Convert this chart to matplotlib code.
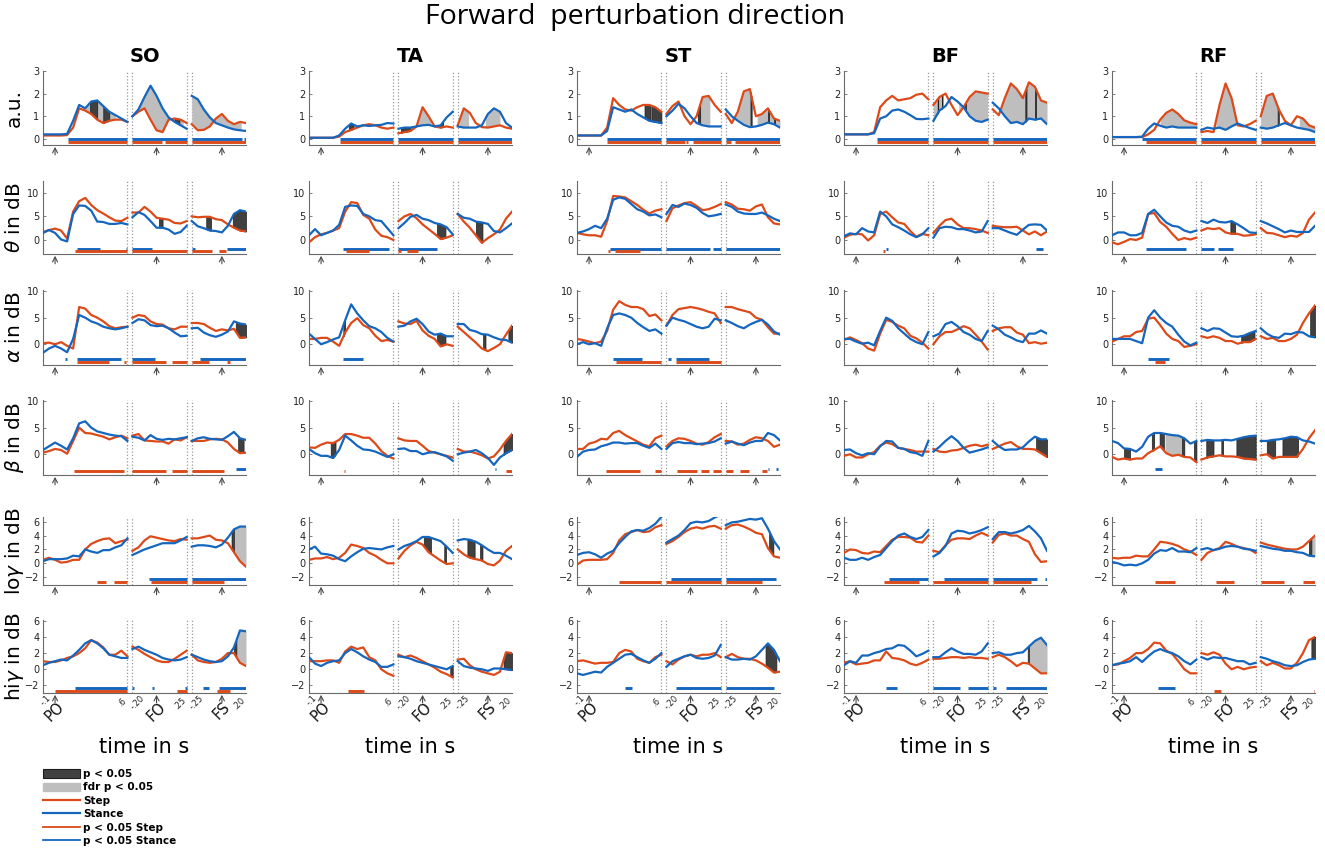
import numpy as np
import matplotlib
matplotlib.use('Agg')
import matplotlib.pyplot as plt
from matplotlib.patches import Patch
from matplotlib.lines import Line2D

plt.rcParams['font.family'] = ['DejaVu Sans']

# ---------------- data ----------------
muscles = ['SO', 'TA', 'ST', 'BF', 'RF']
band_labels = ['a.u.', r'$\theta$ in dB', r'$\alpha$ in dB', r'$\beta$ in dB',
               r'lo$\gamma$ in dB', r'hi$\gamma$ in dB']
events = ['PO', 'FO', 'FS']
seg_start_labels = ['-.1', '-.20', '-.25']
seg_end_labels = ['.6', '.25', '.20']

t_po = [-0.10, -0.05, 0.00, 0.05, 0.10, 0.15, 0.20, 0.25, 0.30, 0.35, 0.40, 0.45, 0.50, 0.55, 0.60]
t_fo = [-0.20, -0.15, -0.10, -0.05, 0.00, 0.05, 0.10, 0.15, 0.20, 0.25]
t_fs = [-0.25, -0.20, -0.15, -0.10, -0.05, 0.00, 0.05, 0.10, 0.15, 0.20]

SO_step = [
    [[0.15,0.15,0.15,0.15,0.17,0.5,1.35,1.25,1.1,0.85,0.7,0.8,0.85,0.85,0.75],[1.0,1.2,1.35,0.85,0.38,0.3,0.85,0.9,0.85,0.7],[0.65,0.38,0.4,0.55,0.9,1.1,0.8,0.65,0.75,0.7]],
    [[1.7,2.1,2.4,2.0,0.3,6.0,8.2,8.9,7.4,6.3,5.6,4.8,4.1,4.0,4.7],[5.8,5.8,7.0,6.0,4.7,4.5,4.3,3.6,3.5,4.0],[5.0,4.8,4.9,4.9,4.4,4.2,3.3,2.6,2.0,1.8]],
    [[0.2,0.3,0.0,0.4,-0.3,-0.8,7.0,6.7,5.5,5.0,4.3,3.4,3.0,3.2,3.3],[5.0,5.5,5.3,4.3,3.8,3.7,3.0,2.8,3.3,3.3],[4.0,4.0,3.8,3.1,2.5,2.8,2.6,2.9,1.2,1.3]],
    [[0.3,0.6,1.0,0.8,0.1,2.5,5.0,4.0,3.9,3.6,3.3,2.8,3.2,3.5,3.0],[3.5,3.8,2.6,2.5,2.4,2.4,2.0,2.8,2.6,3.2],[2.5,2.5,2.5,2.8,2.9,2.8,2.2,1.0,0.2,0.3]],
    [[0.5,0.8,0.5,0.1,0.2,0.5,0.5,2.0,2.8,3.2,3.5,3.6,2.9,3.2,3.4],[1.8,2.3,3.3,3.9,3.7,3.5,3.3,3.2,3.5,3.4],[3.6,3.6,3.8,4.0,3.4,3.3,2.9,1.6,0.3,-0.5]],
    [[1.0,0.9,0.9,1.1,1.4,1.6,2.0,2.6,3.6,3.3,2.7,1.8,1.8,2.3,1.6],[2.8,2.4,1.9,1.5,1.1,0.9,0.9,1.3,1.8,2.3],[1.8,1.1,0.9,0.8,0.9,1.3,2.0,2.0,0.8,0.4]],
]
SO_stance = [
    [[0.2,0.2,0.2,0.2,0.22,0.8,1.5,1.35,1.65,1.7,1.45,1.2,1.05,0.9,0.75],[1.0,1.3,1.85,2.35,1.9,1.35,0.95,0.75,0.6,0.45],[1.9,1.75,1.3,0.95,0.7,0.6,0.5,0.42,0.38,0.35]],
    [[1.5,2.1,1.5,0.1,-0.3,5.5,7.3,7.2,6.2,3.9,3.8,3.4,3.4,3.6,3.3],[4.8,5.9,5.3,4.0,2.6,2.6,2.2,1.3,1.7,3.0],[4.0,2.9,2.5,2.0,1.9,1.6,3.0,5.5,6.3,6.0]],
    [[-1.6,-0.8,-0.3,-0.8,-1.5,1.0,5.5,5.0,4.3,3.9,3.3,3.0,2.8,3.0,3.3],[4.0,4.7,4.5,3.6,3.4,3.5,3.0,2.2,1.5,1.6],[3.0,3.1,2.2,1.7,1.4,1.8,2.4,4.3,3.9,3.7]],
    [[0.8,1.5,2.2,1.6,0.9,3.0,5.8,6.2,5.0,4.3,4.0,3.7,3.5,3.4,2.5],[3.3,3.1,2.6,3.6,2.9,2.7,2.9,2.8,3.0,3.2],[2.5,3.0,3.2,2.9,2.8,2.7,3.4,4.2,3.0,2.7]],
    [[0.3,0.6,0.6,0.6,0.7,1.1,1.0,2.0,1.7,1.5,1.9,1.9,2.3,2.6,3.6],[1.2,1.6,2.0,2.3,2.6,2.9,2.9,2.9,3.3,3.8],[2.4,2.6,2.6,2.5,2.3,2.7,3.7,4.9,5.3,5.3]],
    [[0.5,0.8,1.0,1.2,1.1,1.7,2.4,3.2,3.6,3.2,2.6,1.8,1.6,1.4,1.4],[2.5,2.8,2.4,2.1,1.8,1.4,1.2,1.1,1.2,1.5],[1.8,1.5,1.2,1.0,0.9,1.0,1.6,2.7,4.8,4.7]],
]
TA_step = [
    [[0.05,0.05,0.05,0.05,0.05,0.1,0.3,0.4,0.5,0.6,0.65,0.6,0.5,0.45,0.5],[0.25,0.3,0.35,0.55,1.4,1.0,0.55,0.5,0.55,0.5],[0.6,1.35,1.15,0.7,0.52,0.5,0.55,0.6,0.5,0.45]],
    [[-0.5,0.6,1.2,1.5,2.0,2.5,6.0,8.0,7.8,5.3,4.5,2.2,0.9,0.6,0.0],[4.0,5.0,5.5,4.6,3.3,2.3,1.3,0.2,0.5,1.0],[5.5,3.9,2.6,1.0,-0.6,0.4,1.2,2.2,4.5,6.0]],
    [[1.0,1.0,1.2,1.2,0.5,-0.3,2.2,4.0,4.9,3.6,3.0,1.6,0.6,0.8,0.5],[4.3,3.9,3.8,4.4,2.6,1.6,1.0,-0.4,0.0,-0.3],[3.3,2.3,1.3,0.3,-0.8,-1.3,-0.7,0.0,1.8,3.5]],
    [[1.3,1.2,1.8,2.2,2.1,2.7,3.8,3.8,3.5,3.1,3.1,2.0,0.6,-0.3,-0.8],[3.0,2.6,2.5,2.5,1.6,0.6,0.3,0.0,-0.3,-0.6],[1.0,0.5,0.5,0.2,-0.2,-0.8,-0.4,0.9,2.5,3.8]],
    [[0.5,0.7,0.7,0.9,0.6,0.8,1.5,2.7,2.5,2.2,1.5,1.1,0.5,0.0,0.0],[0.7,1.8,2.6,3.1,2.7,1.6,1.0,0.4,-0.1,0.0],[2.0,1.3,0.8,0.6,0.4,-0.1,-0.3,0.4,1.8,2.5]],
    [[1.0,1.0,1.0,1.1,1.1,0.8,2.2,2.8,2.5,2.7,1.5,1.1,0.0,-0.5,-0.8],[1.8,1.5,1.7,1.4,1.0,0.6,0.2,-0.3,-0.6,-1.0],[1.2,1.3,0.5,0.0,-0.3,-0.5,-0.7,-0.3,2.1,2.0]],
]
TA_stance = [
    [[0.05,0.05,0.05,0.05,0.05,0.15,0.45,0.68,0.55,0.6,0.57,0.6,0.62,0.7,0.68],[0.45,0.5,0.5,0.55,0.6,0.62,0.55,0.6,0.95,1.2],[0.55,0.5,0.5,0.5,0.6,1.1,1.35,1.2,0.7,0.5]],
    [[1.0,2.3,1.0,1.5,2.0,3.2,7.0,7.3,7.2,5.5,5.0,4.2,4.0,2.5,1.0],[2.5,3.6,4.9,5.3,4.5,4.2,3.6,3.3,2.7,1.2],[5.5,4.7,4.5,3.9,3.7,3.4,1.9,1.6,2.5,3.5]],
    [[2.0,1.0,0.0,0.4,0.9,1.3,4.5,7.5,5.8,4.5,3.4,3.0,2.3,1.2,0.5],[3.3,3.5,4.3,4.8,3.8,2.4,1.8,2.0,1.5,1.5],[3.8,3.8,2.7,2.4,1.9,1.8,1.3,0.9,0.8,0.3]],
    [[1.0,0.2,-0.3,-0.3,-0.7,0.8,3.5,2.6,1.6,0.9,0.8,0.5,0.0,-0.5,0.0],[1.0,1.1,0.6,0.6,0.0,0.3,0.4,0.0,-0.4,-1.2],[0.0,0.3,0.5,0.8,0.2,-0.7,-2.0,-0.6,0.2,0.8]],
    [[2.0,2.4,1.4,1.3,1.1,0.6,0.3,1.0,1.6,2.1,2.2,2.1,2.0,2.3,2.5],[2.0,2.5,2.8,3.2,3.8,3.8,3.5,3.2,2.4,1.5],[3.3,3.5,3.4,3.1,2.6,2.0,1.5,1.5,1.1,0.6]],
    [[1.5,0.7,0.4,0.8,1.0,1.1,2.0,2.5,2.1,1.6,1.2,0.9,0.3,0.3,0.6],[1.6,1.5,1.3,1.0,0.8,0.6,0.4,0.2,0.0,0.4],[1.0,0.4,0.2,0.1,0.0,-0.2,0.1,0.1,0.0,-0.1]],
]
ST_step = [
    [[0.15,0.15,0.15,0.15,0.15,0.5,1.8,1.5,1.3,1.25,1.4,1.5,1.5,1.4,1.2],[1.1,1.45,1.65,1.0,0.65,1.0,1.85,1.9,1.5,1.2],[1.1,0.7,1.2,2.1,2.2,1.0,1.1,1.35,0.9,0.8]],
    [[1.5,1.2,1.0,1.0,0.7,4.0,9.3,9.2,9.0,8.2,7.4,6.4,5.6,6.2,6.5],[4.0,6.7,7.3,7.8,8.0,7.2,6.3,6.5,7.0,7.6],[8.0,7.5,6.6,6.5,6.2,7.1,7.5,4.8,3.5,3.3]],
    [[1.0,0.8,0.5,0.2,0.5,2.5,6.5,8.1,7.4,7.0,7.0,6.6,5.3,5.6,4.5],[3.5,5.5,6.6,6.8,7.0,6.8,6.5,6.1,5.8,4.0],[7.0,7.0,6.6,6.3,6.0,5.0,4.6,3.2,2.0,2.0]],
    [[1.0,1.0,2.0,2.3,2.9,2.8,4.0,4.4,3.6,3.0,2.4,1.8,1.5,3.0,3.5],[1.5,2.5,3.0,2.9,2.5,2.0,1.8,2.3,3.2,3.8],[2.5,2.4,1.8,2.0,2.7,3.2,3.0,2.5,1.4,1.8]],
    [[-0.2,0.4,0.5,0.5,0.5,0.6,1.5,3.3,4.2,4.5,4.8,4.5,4.6,5.2,5.5],[2.8,3.2,3.8,4.5,5.0,5.2,5.0,5.3,5.4,5.0],[5.0,5.5,5.6,5.3,4.9,4.4,4.2,2.2,1.0,0.8]],
    [[1.0,1.1,0.9,0.7,0.8,0.8,0.9,2.0,2.4,2.2,1.3,1.0,0.8,1.5,1.8],[1.0,0.6,1.2,1.6,1.8,1.6,1.8,1.8,2.0,1.5],[1.5,1.9,1.5,1.3,1.3,1.1,0.7,0.2,-0.4,-0.3]],
]
ST_stance = [
    [[0.15,0.15,0.15,0.15,0.15,0.35,1.4,1.3,1.2,1.3,1.1,0.95,0.8,0.75,0.7],[1.0,1.25,1.55,1.35,1.0,0.7,0.6,0.55,0.55,0.55],[1.3,1.0,0.8,0.62,0.52,0.55,0.62,0.72,0.65,0.5]],
    [[1.5,1.8,2.3,3.0,2.5,4.5,8.5,9.0,8.7,7.6,6.5,6.0,5.2,5.4,4.8],[5.5,7.4,7.0,7.7,7.4,6.8,5.7,5.0,5.2,5.5],[7.5,7.0,6.0,5.6,5.5,5.5,5.8,5.2,4.5,4.0]],
    [[0.0,0.4,0.0,0.2,-0.3,3.0,5.5,5.8,5.5,5.0,4.0,3.2,2.5,2.8,2.0],[3.5,5.0,4.6,4.3,3.8,3.3,3.0,3.3,4.8,4.5],[4.5,4.0,3.4,3.0,3.7,4.2,4.6,3.7,2.4,1.8]],
    [[-0.5,0.5,0.8,0.9,1.5,1.8,2.2,2.2,2.0,2.1,2.1,1.6,1.2,2.0,1.0],[1.0,2.1,2.3,2.1,2.1,1.9,2.0,2.1,2.4,3.0],[2.0,2.4,2.0,1.7,2.2,2.5,2.5,4.0,3.6,2.6]],
    [[1.2,1.5,1.6,1.3,0.8,1.4,1.8,2.9,3.8,4.6,4.8,4.7,5.1,5.7,6.7],[3.0,3.5,4.0,4.8,5.8,6.0,5.9,6.1,6.6,7.0],[5.5,5.9,6.0,6.2,6.4,6.3,6.5,5.0,3.2,2.0]],
    [[-0.5,-0.7,-0.5,-0.3,-0.4,0.3,0.8,1.3,1.8,1.9,1.5,1.1,0.8,1.3,2.0],[0.3,1.0,1.3,1.6,1.8,1.4,1.3,1.4,1.7,3.0],[1.5,1.2,1.2,1.3,1.2,1.6,2.4,3.2,2.4,1.0]],
]
BF_step = [
    [[0.2,0.2,0.2,0.2,0.2,0.3,1.4,1.7,1.9,1.7,1.75,1.8,1.95,2.0,1.75],[1.5,1.85,2.0,1.5,1.05,1.4,1.85,2.1,2.05,2.0],[1.3,1.05,1.8,2.45,2.2,1.8,2.5,2.3,1.7,1.6]],
    [[0.5,1.1,1.3,1.2,-0.1,1.0,5.5,6.0,4.8,3.7,3.4,1.9,0.7,1.3,1.0],[1.5,3.0,4.2,4.5,3.3,2.5,2.5,2.3,2.0,1.5],[3.0,2.8,2.7,2.7,2.8,2.0,1.2,1.8,1.0,1.8]],
    [[0.8,1.3,0.8,0.2,-0.8,-1.2,2.0,4.6,4.2,3.5,3.0,1.6,1.1,0.3,-0.8],[0.0,1.5,2.3,2.3,2.8,3.4,3.0,1.8,0.5,-1.0],[2.5,3.0,3.2,3.2,2.2,1.8,0.2,0.4,0.1,0.3]],
    [[-0.3,0.0,-0.6,-0.6,0.0,0.4,1.6,2.2,1.9,1.2,1.0,0.8,0.5,0.5,0.5],[1.0,0.5,0.4,0.7,0.8,1.2,1.6,1.8,1.5,1.8],[1.0,1.5,2.0,2.3,1.5,1.0,1.0,0.9,0.2,-0.5]],
    [[1.5,2.0,1.9,1.5,1.4,1.7,1.6,2.5,3.4,3.8,3.8,3.7,3.1,3.0,4.0],[1.8,1.6,2.6,3.4,3.6,3.6,3.5,4.0,4.4,4.0],[3.0,4.1,4.3,4.0,4.0,3.5,3.1,1.3,0.2,0.3]],
    [[0.8,1.0,0.6,0.7,0.8,1.1,1.1,2.2,1.4,1.3,1.1,0.7,0.5,0.8,1.2],[1.3,1.3,1.4,1.5,1.5,1.4,1.5,1.4,1.4,1.3],[1.5,1.8,1.5,1.0,0.4,0.8,0.7,0.1,-0.5,-0.5]],
]
BF_stance = [
    [[0.2,0.2,0.2,0.2,0.2,0.25,0.9,1.0,1.25,1.3,1.2,1.05,0.88,0.87,0.9],[0.8,1.25,1.45,1.85,1.65,1.4,1.0,0.8,0.75,0.85],[1.6,1.35,1.0,0.7,0.75,0.65,0.9,0.85,0.9,0.65]],
    [[0.8,1.4,1.2,2.5,1.8,1.6,6.0,5.0,3.3,2.7,2.0,1.2,0.6,1.2,2.5],[0.5,2.5,2.8,2.7,2.3,2.3,2.0,1.6,1.8,4.0],[2.5,2.5,2.0,1.5,1.1,2.2,3.2,3.3,3.2,2.0]],
    [[1.0,1.0,0.5,0.1,0.3,-0.2,2.5,5.0,4.4,3.0,2.0,1.0,0.4,0.0,2.3],[1.5,2.0,3.8,4.2,3.4,2.3,1.8,1.0,0.6,2.5],[3.5,2.8,1.8,1.3,0.7,0.4,2.0,2.0,2.6,2.0]],
    [[0.8,0.9,0.2,-0.2,0.2,0.0,1.5,2.5,2.4,1.2,1.0,0.4,0.2,-0.3,2.5],[0.5,1.4,2.5,3.4,2.5,1.2,0.3,0.6,0.9,1.3],[2.5,1.5,0.8,0.9,0.9,1.3,2.4,3.3,2.8,2.8]],
    [[0.8,0.5,0.5,0.8,0.5,0.9,1.2,2.2,3.2,4.0,4.3,3.8,3.5,3.8,4.8],[1.0,1.5,2.5,4.3,4.7,4.6,4.3,4.5,4.8,5.2],[3.5,4.5,4.5,4.3,4.5,4.8,5.4,4.6,3.6,1.8]],
    [[0.5,1.0,0.8,1.7,1.7,2.0,2.2,2.5,2.6,3.0,2.9,2.3,1.6,1.9,2.3],[1.5,1.5,2.1,2.6,2.2,1.9,1.9,1.8,2.2,3.2],[2.0,2.1,1.8,1.8,2.0,2.1,2.8,3.5,3.9,3.0]],
]
RF_step = [
    [[0.08,0.08,0.08,0.08,0.08,0.08,0.2,0.4,0.85,1.15,1.3,1.1,0.82,0.72,0.65],[0.3,0.35,0.3,1.5,2.45,1.8,0.6,0.55,0.65,0.8],[1.0,1.9,2.0,1.3,0.8,0.6,1.0,0.9,0.6,0.5]],
    [[-0.5,-0.9,-0.4,0.2,0.0,0.5,5.5,5.7,3.8,2.8,1.3,0.0,0.4,0.1,0.5],[2.0,2.5,2.3,2.5,1.6,1.3,1.3,0.9,1.0,1.2],[2.5,1.5,1.4,1.0,0.6,0.9,0.7,1.5,4.3,5.8]],
    [[0.5,1.0,1.5,1.5,2.3,2.5,4.8,5.0,3.6,2.0,1.0,0.6,-0.5,-0.3,0.0],[1.5,1.2,1.5,1.2,0.6,0.6,0.1,0.4,0.4,1.0],[1.5,1.0,1.2,0.6,0.6,1.0,1.8,4.0,5.8,7.3]],
    [[-0.5,-1.0,-0.8,-1.0,-0.8,-0.8,0.2,0.8,1.5,0.2,-0.3,-0.1,-0.5,-0.6,-1.5],[-1.0,-0.6,-0.4,-0.2,-0.4,-0.4,-0.5,-0.8,-0.9,-1.0],[-0.2,0.0,-0.8,-0.5,-0.5,-0.5,-0.5,1.0,3.0,4.5]],
    [[0.8,0.7,0.8,0.8,1.1,1.0,1.0,2.0,3.1,3.0,2.8,2.5,2.0,1.7,1.2],[0.5,1.5,1.9,2.2,3.1,2.8,2.4,2.2,2.0,1.5],[3.0,2.7,2.5,2.3,2.1,2.0,2.0,2.4,3.2,4.0]],
    [[0.5,0.6,1.0,1.4,2.0,2.0,2.5,3.3,3.2,2.3,1.9,1.0,0.0,-0.5,-0.5],[2.0,1.8,2.1,1.8,0.7,0.0,0.3,0.0,0.2,0.3],[1.0,0.5,0.8,0.5,0.1,0.1,0.8,2.0,3.6,4.0]],
]
RF_stance = [
    [[0.08,0.08,0.08,0.08,0.08,0.1,0.45,0.68,0.58,0.5,0.55,0.5,0.5,0.5,0.5],[0.4,0.5,0.45,0.5,0.4,0.55,0.68,0.58,0.48,0.4],[0.5,0.45,0.5,0.6,0.7,0.6,0.5,0.45,0.4,0.3]],
    [[1.0,1.6,1.6,1.0,1.0,1.5,5.5,6.4,5.0,3.7,3.0,2.8,2.0,1.6,2.0],[4.0,3.6,4.3,3.8,3.7,4.0,3.3,2.5,1.6,1.5],[4.0,3.5,2.9,2.3,1.6,2.0,1.7,1.7,1.7,3.0]],
    [[1.0,1.0,1.0,1.0,0.6,0.2,5.0,6.4,5.0,4.0,3.3,1.8,0.5,-0.2,0.3],[3.0,2.5,3.0,2.9,2.2,1.5,1.4,1.6,2.1,2.5],[3.0,2.0,1.4,1.2,2.0,1.9,2.3,2.2,1.5,1.3]],
    [[2.5,2.1,1.1,1.0,0.5,1.4,3.3,4.0,4.0,3.8,3.6,3.5,3.0,2.0,2.5],[2.5,2.7,2.6,2.6,2.7,2.6,2.9,3.2,3.4,3.5],[2.5,2.5,2.7,2.8,3.0,3.3,3.2,2.6,2.4,2.0]],
    [[0.2,0.0,-0.3,-0.2,-0.3,0.0,0.5,1.4,1.9,1.8,2.2,1.7,1.7,1.6,2.2],[2.0,2.2,1.9,2.1,2.4,2.5,2.4,2.1,2.0,1.8],[2.5,2.3,2.1,2.0,1.8,1.8,1.6,1.5,1.1,1.0]],
    [[0.5,0.7,0.8,1.0,1.5,0.9,1.6,2.2,2.5,2.2,2.0,1.6,1.0,0.6,1.2],[1.5,1.2,1.5,1.4,1.4,1.2,1.0,1.0,0.6,0.8],[1.5,1.3,1.0,0.8,0.5,0.4,0.5,0.9,1.2,1.3]],
]

# shaded significance (segment, t0, t1, kind): 'g' = fdr p<0.05, 'd' = p<0.05
SO_shade = [
    [(0,.25,.5,'g'),(0,.29,.35,'d'),(0,.40,.45,'d'),(1,-.16,.22,'g'),(1,.15,.19,'d'),(2,-.25,.16,'g')],
    [(1,.02,.05,'d'),(2,-.13,-.09,'d'),(2,.09,.2,'d')],
    [(2,.115,.2,'d')],
    [(2,.135,.18,'d')],
    [(2,.08,.1,'d'),(2,.1,.2,'g')],
    [(2,.1,.12,'d'),(2,.12,.2,'g')],
]
TA_shade = [
    [(0,.23,.27,'d'),(1,-.18,-.1,'d'),(1,-.04,.07,'g'),(1,.13,.17,'d'),(2,-.24,-.16,'g'),(2,-.02,.1,'g')],
    [(1,.12,.19,'d'),(2,-.1,-.045,'d')],
    [(0,.185,.2,'d'),(1,.12,.19,'d'),(2,-.04,-.02,'d'),(2,.17,.2,'d')],
    [(0,.08,.12,'d'),(2,.13,.2,'d')],
    [(1,.01,.07,'d'),(1,.18,.195,'d'),(2,-.17,-.11,'d'),(2,-.065,-.045,'d')],
    [(1,.23,.25,'d'),(2,.13,.2,'d')],
]
ST_shade = [
    [(0,.46,.6,'g'),(0,.46,.51,'d'),(0,.52,.6,'d'),(1,.06,.16,'g'),(1,.06,.08,'d'),(2,-.2,-.04,'g'),(2,-.045,-.035,'d'),(2,.01,.2,'g'),(2,.1,.11,'d'),(2,.15,.16,'d')],
    [],
    [],
    [],
    [(2,.11,.145,'d')],
    [(2,.08,.17,'d')],
]
BF_shade = [
    [(1,-.2,-.12,'g'),(1,-.165,-.16,'d'),(1,-.13,-.125,'d'),(1,.01,.25,'g'),(1,.06,.07,'d'),(2,-.19,.2,'g'),(2,.02,.03,'d'),(2,.1,.11,'d')],
    [],
    [],
    [(2,.11,.2,'d')],
    [],
    [(2,.04,.05,'d'),(2,.05,.2,'g')],
]
RF_shade = [
    [(0,.3,.6,'g'),(1,-.08,.1,'g'),(2,-.25,-.11,'g'),(2,-.11,-.1,'d'),(2,.07,.2,'g')],
    [(1,.04,.08,'d')],
    [(1,.13,.24,'d'),(2,.16,.2,'d')],
    [(0,0.0,.05,'d'),(0,.23,.25,'d'),(0,.295,.33,'d'),(0,.34,.48,'g'),(0,.48,.5,'d'),(0,.58,.6,'d'),
     (1,-.16,-.1,'d'),(1,-.035,-.02,'d'),(1,.09,.25,'d'),(2,-.2,-.13,'d'),(2,-.07,.06,'d')],
    [(2,.15,.17,'d'),(2,.17,.2,'g')],
    [(2,.17,.2,'d')],
]

# significance bars (segment, t0, t1)
SO_sig_step = [
    [(0,.11,.6),(1,-.2,.047),(1,.067,.25),(2,-.25,.2)],
    [(0,.166,.6),(1,-.2,.25),(2,-.25,-.08),(2,-.025,.03)],
    [(0,.186,.446),(0,.575,.585),(1,-.2,.076),(1,.13,.25),(2,-.25,-.11),(2,.04,.07)],
    [(0,.158,.572),(1,-.2,.076),(1,.13,.25),(2,-.25,.017)],
    [(0,.348,.426),(0,.488,.6),(1,-.045,.25),(2,-.25,.017)],
    [(0,0.0,.6),(1,.17,.25),(2,-.04,.07)],
]
SO_sig_stance = [
    [(0,.11,.6),(1,-.2,.25),(2,-.25,.17),(2,.185,.2)],
    [(0,.186,.376),(0,.59,.6),(1,-.2,-.037),(2,-.25,-.22),(2,.045,.2)],
    [(0,.085,.095),(0,.186,.544),(1,-.2,-.017),(2,-.185,.2)],
    [(2,.116,.2)],
    [(1,-.065,.25),(2,-.25,.2)],
    [(0,.167,.6),(1,-.2,-.185),(1,-.036,-.02),(1,.235,.25),(2,-.16,-.105),(2,-.025,.2)],
]
TA_sig_step = [
    [(0,.16,.6),(1,-.2,.25),(2,-.25,.2)],
    [(0,.21,.4),(1,-.2,-.18),(1,-.13,-.04)],
    [],
    [(0,.19,.2),(2,.15,.2)],
    [],
    [(0,.22,.36)],
]
TA_sig_stance = [
    [(0,.16,.6),(1,-.2,.25),(2,-.25,.2)],
    [(0,.186,.565),(1,-.2,.12)],
    [(0,.186,.345)],
    [(2,.058,.07)],
    [],
    [],
]
ST_sig_step = [
    [(0,.15,.6),(1,-.2,-.05),(1,-.035,-.025),(1,.02,.25),(2,-.25,-.21),(2,-.17,.2)],
    [(0,.157,.17),(0,.218,.42)],
    [(0,.22,.6),(1,-.12,.25)],
    [(0,.143,.42),(0,.545,.6),(1,-.11,.05),(1,.09,.15),(1,.19,.25),(2,-.25,-.19),(2,-.13,-.06),(2,.05,.09)],
    [(0,.245,.6),(1,-.2,.25),(2,-.25,.05)],
    [],
]
ST_sig_stance = [
    [(0,.15,.6),(1,-.2,.25),(2,-.25,.2)],
    [(0,.177,.6),(1,-.2,.16),(1,.19,.25),(2,-.25,.2)],
    [(0,.2,.44),(1,-.19,-.16),(1,-.12,.15)],
    [(2,.1,.11),(2,.17,.18)],
    [(1,-.16,.25),(2,-.25,.17)],
    [(0,.3,.36),(1,-.12,.25),(2,-.25,.15)],
]
BF_sig_step = [
    [(0,.177,.6),(1,-.2,.25),(2,-.25,.2)],
    [(0,.225,.24)],
    [],
    [],
    [(0,.23,.52),(1,-.2,.25),(2,-.25,.07)],
    [],
]
BF_sig_stance = [
    [(0,.177,.6),(1,-.2,.25),(2,-.25,.2)],
    [(0,.25,.265),(2,.11,.17)],
    [],
    [],
    [(0,.27,.6),(1,-.11,.25),(2,-.25,.12),(2,.185,.2)],
    [(0,.25,.34),(1,-.2,.02),(1,.09,.25),(2,-.25,-.22),(2,-.14,.2)],
]
RF_sig_step = [
    [(0,.185,.6),(1,-.2,.25),(2,-.25,.2)],
    [],
    [(0,.26,.34)],
    [],
    [(0,.26,.42),(1,-.08,.07),(2,-.25,-.06),(2,.1,.2)],
    [(1,-.1,-.036),(2,.19,.2)],
]
RF_sig_stance = [
    [(0,.15,.6),(1,-.2,.25),(2,-.25,.2)],
    [(0,.18,.51),(1,-.2,-.1),(1,-.06,.06)],
    [(0,.2,.37)],
    [(0,.26,.315)],
    [],
    [(0,.28,.42)],
]

STEP = {'SO': SO_step, 'TA': TA_step, 'ST': ST_step, 'BF': BF_step, 'RF': RF_step}
STANCE = {'SO': SO_stance, 'TA': TA_stance, 'ST': ST_stance, 'BF': BF_stance, 'RF': RF_stance}
SHADE = {'SO': SO_shade, 'TA': TA_shade, 'ST': ST_shade, 'BF': BF_shade, 'RF': RF_shade}
SIG_STEP = {'SO': SO_sig_step, 'TA': TA_sig_step, 'ST': ST_sig_step, 'BF': BF_sig_step, 'RF': RF_sig_step}
SIG_STANCE = {'SO': SO_sig_stance, 'TA': TA_sig_stance, 'ST': ST_sig_stance, 'BF': BF_sig_stance, 'RF': RF_sig_stance}

# ---------------- layout / style ----------------
W, H = 1325, 857
C_STEP = '#DC4A1A'
C_STANCE = '#1566BE'
C_FDR = '#BEBEBE'
C_P = '#404040'

SEG_T = [np.array(t_po), np.array(t_fo), np.array(t_fs)]
SEG_LIM = [(-0.1, 0.6), (-0.2, 0.25), (-0.25, 0.2)]
GAP = 0.042
OFF = [0.1, 0.9 + GAP, 1.4 + 2 * GAP]
XMAX = 1.6 + 2 * GAP

col_left = [43, 309, 577, 844, 1112]
col_w = 203
rows_px = [(71, 145), (181, 254), (290, 365), (400, 475), (517, 585), (620, 693)]
ylims = [(-0.27, 3.0), (-2.96, 12.47), (-3.9, 10.2), (-3.9, 10.2), (-3.13, 6.68), (-2.93, 6.09)]
yticks = [[0, 1, 2, 3], [0, 5, 10], [0, 5, 10], [0, 5, 10], [-2, 0, 2, 4, 6], [-2, 0, 2, 4, 6]]
bar_px_stance = [6.5, 5.4, 6.0, 6.3, 6.0, 4.8]
bar_px_step = [3.2, 2.6, 3.3, 3.8, 3.0, 2.3]

fig = plt.figure(figsize=(W / 100, H / 100), dpi=100)

def px2fig_x(x):
    return x / W

def px2fig_y(y):
    return 1 - y / H

for ci, m in enumerate(muscles):
    L = col_left[ci]
    for ri in range(6):
        top, bot = rows_px[ri]
        hpx = bot - top
        ax = fig.add_axes([L / W, 1 - bot / H, col_w / W, hpx / H])
        y0, y1 = ylims[ri]
        ax.set_xlim(0, XMAX)
        ax.set_ylim(y0, y1)

        # shading between the curves
        for kind in ('g', 'd'):
            for (si, a, b, k) in SHADE[m][ri]:
                if k != kind:
                    continue
                tt = np.linspace(a, b, 40)
                rr = np.interp(tt, SEG_T[si], STEP[m][ri][si])
                bb = np.interp(tt, SEG_T[si], STANCE[m][ri][si])
                if kind == 'g':
                    ax.fill_between(tt + OFF[si], rr, bb, color=C_FDR, lw=0, zorder=1)
                else:
                    ax.fill_between(tt + OFF[si], rr, bb, facecolor=C_P, edgecolor='#1e1e1e',
                                    lw=0.5, zorder=1.5)

        # curves
        for si in range(3):
            x = SEG_T[si] + OFF[si]
            ax.plot(x, STEP[m][ri][si], color=C_STEP, lw=1.6, zorder=3)
            ax.plot(x, STANCE[m][ri][si], color=C_STANCE, lw=1.6, zorder=3.1)

        # significance bars
        yb_st = y0 + bar_px_stance[ri] / hpx * (y1 - y0)
        yb_sp = y0 + bar_px_step[ri] / hpx * (y1 - y0)
        for (si, a, b) in SIG_STANCE[m][ri]:
            ax.plot([a + OFF[si], b + OFF[si]], [yb_st, yb_st], color=C_STANCE, lw=2.1,
                    solid_capstyle='butt', zorder=4)
        for (si, a, b) in SIG_STEP[m][ri]:
            ax.plot([a + OFF[si], b + OFF[si]], [yb_sp, yb_sp], color=C_STEP, lw=2.1,
                    solid_capstyle='butt', zorder=4)

        # segment borders
        for xb in [0.7, 0.7 + GAP, 1.15 + GAP, 1.15 + 2 * GAP]:
            ax.axvline(xb, color='#9a9a9a', ls=(0, (1, 1.6)), lw=0.9, zorder=0.5)

        # event arrows
        for si in range(3):
            xe = OFF[si]
            ax.annotate('', xy=(xe, -0.025), xycoords=('data', 'axes fraction'),
                        xytext=(0, -8), textcoords='offset pixels',
                        arrowprops=dict(arrowstyle='->,head_length=0.35,head_width=0.18',
                                        lw=0.8, color='#4a4a4a', shrinkA=0, shrinkB=0),
                        annotation_clip=False)

        for s in ['top', 'right']:
            ax.spines[s].set_visible(False)
        for s in ['left', 'bottom']:
            ax.spines[s].set_color('#6a6a6a')
            ax.spines[s].set_linewidth(0.8)
        ax.set_xticks([])
        ax.set_yticks(yticks[ri])
        ax.tick_params(axis='y', direction='in', length=2.5, width=0.6, color='#6a6a6a',
                       labelsize=7, pad=2.5, labelcolor='#222222')

        # bottom-row x labels
        if ri == 5:
            for si in range(3):
                lo, hi = SEG_LIM[si]
                xs = L + (lo + OFF[si]) / XMAX * col_w
                xe_ = L + (hi + OFF[si]) / XMAX * col_w
                xev = L + OFF[si] / XMAX * col_w
                fig.text(px2fig_x(xs - 4), px2fig_y(bot + 0.5), seg_start_labels[si], rotation=45,
                         ha='left', va='top', fontsize=6, color='#222222')
                fig.text(px2fig_x(xe_ + 1), px2fig_y(bot + 3), seg_end_labels[si], rotation=45,
                         ha='right', va='top', fontsize=6, color='#222222')
                fig.text(px2fig_x(xev), px2fig_y(bot + 6), events[si], rotation=45,
                         ha='center', va='top', fontsize=10.5, color='#111111')

    # column title and x label
    cx = L + col_w / 2
    fig.text(px2fig_x(cx), px2fig_y(56), m, ha='center', va='center', fontsize=14,
             weight='bold')
    fig.text(px2fig_x(cx), px2fig_y(747), 'time in s', ha='center', va='center', fontsize=15)

# row labels
for ri in range(6):
    top, bot = rows_px[ri]
    fig.text(px2fig_x(14), px2fig_y((top + bot) / 2), band_labels[ri], rotation=90,
             ha='center', va='center', fontsize=14.5)

# title
fig.text(px2fig_x(635), px2fig_y(17), 'Forward  perturbation direction', ha='center',
         va='center', fontsize=20.5, family=['Open Sans', 'DejaVu Sans'])

# legend
handles = [Patch(facecolor=C_P, edgecolor='#1e1e1e', lw=0.8),
           Patch(facecolor=C_FDR, edgecolor=C_FDR),
           Line2D([], [], color=C_STEP, lw=1.6),
           Line2D([], [], color=C_STANCE, lw=1.6),
           Line2D([], [], color=C_STEP, lw=1.3),
           Line2D([], [], color=C_STANCE, lw=1.3)]
labels = ['p < 0.05', 'fdr p < 0.05', 'Step', 'Stance', 'p < 0.05 Step', 'p < 0.05 Stance']
fig.legend(handles, labels, loc='upper left', bbox_to_anchor=(43 / W, 1 - 769 / H),
           frameon=False, borderpad=0, borderaxespad=0, handlelength=3.55,
           handleheight=0.9, handletextpad=0.3, labelspacing=0.33,
           prop={'weight': 'bold', 'size': 7.5})

fig.savefig('out.png', dpi=100)
